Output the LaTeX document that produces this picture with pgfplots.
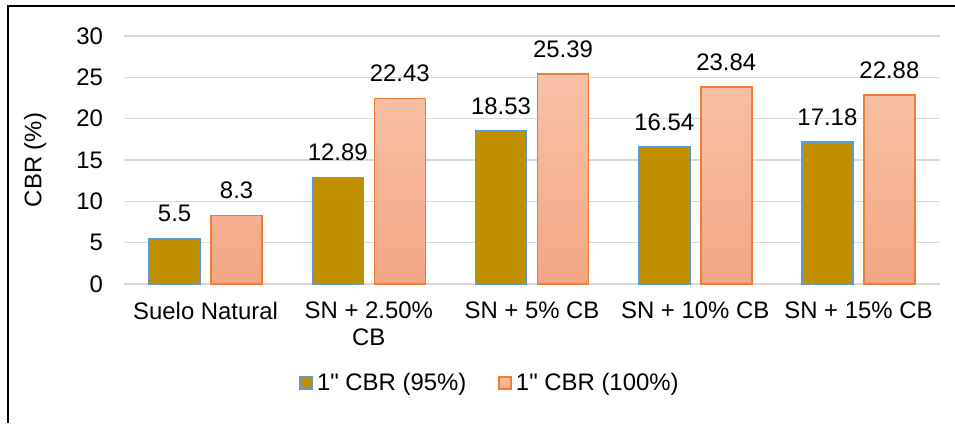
\documentclass[border=0pt]{standalone}
\usepackage{fontspec}
\setmainfont{Liberation Sans}[Ligatures=TeXOff]
\usepackage{pgfplots}
\pgfplotsset{compat=1.18}
\definecolor{olive}{HTML}{BF8F00}
\definecolor{olivedge}{HTML}{5B9BD5}
\definecolor{salmtop}{HTML}{F8C1A8}
\definecolor{salmbot}{HTML}{F4A684}
\definecolor{salmedge}{HTML}{ED7D31}
\definecolor{gridgray}{HTML}{D9D9D9}
\begin{document}
\begin{tikzpicture}[x=1bp,y=1bp]
\path[use as bounding box] (0,0) rectangle (477.5,211.5);
\draw[line width=1bp,black] (4,0) -- (4,208.5) -- (477.5,208.5);
\begin{axis}[
  at={(62bp,69.5bp)}, anchor=south west,
  scale only axis, width=408bp, height=124bp,
  xmin=-0.5, xmax=4.5, ymin=0, ymax=30,
  ytick={0,5,...,30},
  xtick=data,
  xticklabels={Suelo Natural, {SN + 2.50\%\\CB}, SN + 5\% CB, SN + 10\% CB, SN + 15\% CB},
  x tick label style={align=center, font={\fontsize{12}{13.5}\selectfont}, yshift=-5.5bp},
  y tick label style={font={\fontsize{12}{13.5}\selectfont}, xshift=-7bp},
  /pgf/number format/assume math mode=true,
  ylabel={CBR (\%)},
  every axis y label/.style={at={(axis description cs:-0.109,0.5)}, rotate=90, anchor=center, font={\fontsize{12}{13.5}\selectfont}},
  axis line style={draw=none},
  major tick length=0pt,
  ymajorgrids, grid style={gridgray, line width=0.75bp},
  ybar=5.5bp, bar width=25.5bp,
  nodes near coords,
  nodes near coords style={font={\fontsize{12}{13.5}\selectfont}, /pgf/number format/assume math mode=true, yshift=4.5bp},
  legend style={at={(axis description cs:0.4498,-0.399)}, anchor=center, draw=none, fill=none,
    legend columns=2, font={\fontsize{12}{13.5}\selectfont},
    /tikz/every even column/.append style={column sep=14bp}},
  legend image code/.code={\draw[#1, line width=0.8bp] (0bp,-3bp) rectangle (6bp,3bp);},
  legend cell align=left,
]
\addplot[fill=olive, draw=olivedge, line width=0.8bp] coordinates {(0,5.5) (1,12.89) (2,18.53) (3,16.54) (4,17.18)};
\addplot[top color=salmtop, bottom color=salmbot, draw=salmedge, line width=0.8bp] coordinates {(0,8.3) (1,22.43) (2,25.39) (3,23.84) (4,22.88)};
\legend{1" CBR (95\%), 1" CBR (100\%)}
\end{axis}
\end{tikzpicture}
\end{document}
